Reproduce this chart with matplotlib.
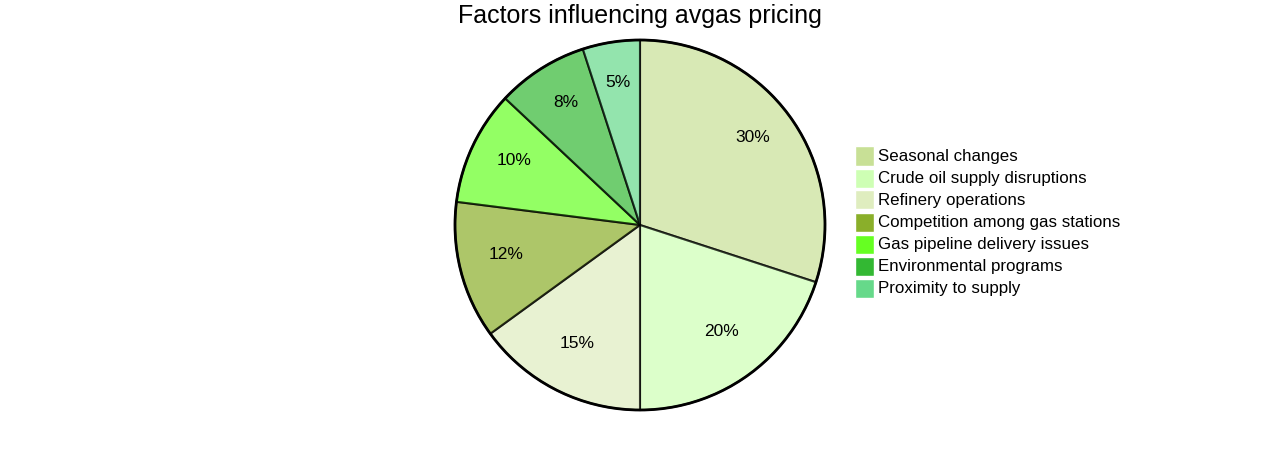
import matplotlib
matplotlib.use("Agg")
import matplotlib.pyplot as plt
from matplotlib.patches import Rectangle, Circle

plt.rcParams['font.family'] = ['Liberation Sans', 'DejaVu Sans']

title = "Factors influencing avgas pricing"
categories = ["Seasonal changes", "Crude oil supply disruptions", "Refinery operations",
              "Competition among gas stations", "Gas pipeline delivery issues",
              "Environmental programs", "Proximity to supply"]
values = [30, 20, 15, 12, 10, 8, 5]
colors = ["#c8e096", "#ceffb4", "#dfedbf", "#8aaf2a", "#66ff22", "#33b833", "#66d98a"]

W, H = 1280, 450
fig = plt.figure(figsize=(W / 100, H / 100), dpi=100)
cx, cy, R = 640, 225, 185
ax = fig.add_axes([(cx - R) / W, (H - cy - R) / H, 2 * R / W, 2 * R / H])
wedges, texts, autotexts = ax.pie(
    values, colors=colors, startangle=90, counterclock=False,
    autopct=lambda p: f"{p:.0f}%", pctdistance=0.75,
    wedgeprops=dict(edgecolor="black", linewidth=1.5, alpha=0.7),
    textprops=dict(fontsize=12.5, color="black"))
for w in wedges:
    w.set_edgecolor((0, 0, 0, 1))
for t in autotexts:
    x, y = t.get_position()
    t.set_position((x, y + 5.5 / R))
ax.add_patch(Circle((0, 0), 1, fill=False, edgecolor="black", linewidth=2, clip_on=False))
ax.set_xlim(-1.0, 1.0)
ax.set_ylim(-1.0, 1.0)
ax.set_aspect("equal")
ax.axis("off")
for w in wedges:
    w.set_clip_on(False)

fig.text(cx / W, 1 - 16 / H, title, ha="center", va="center", fontsize=18)

# legend
lx, ly0, step, sz = 855, 156, 22, 19
for i, (lab, col) in enumerate(zip(categories, colors)):
    y = ly0 + i * step
    fig.add_artist(Rectangle((lx / W, 1 - (y + sz / 2) / H), sz / W, sz / H,
                             transform=fig.transFigure, facecolor=col,
                             edgecolor="white", linewidth=1))
    fig.text(878 / W, 1 - y / H, lab, ha="left", va="center", fontsize=12.2)

fig.savefig("out.png", dpi=100, facecolor="white")
